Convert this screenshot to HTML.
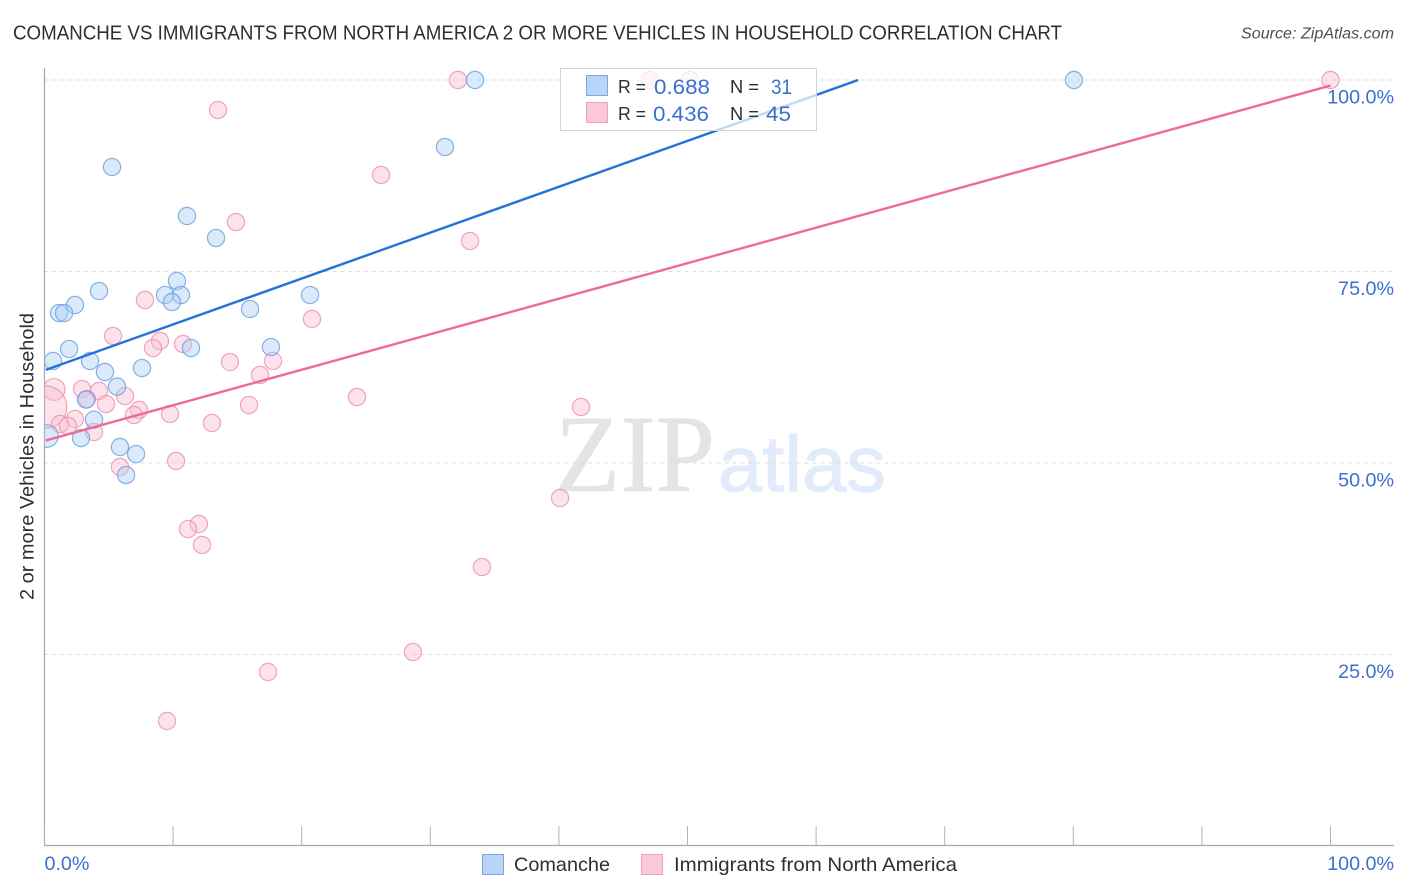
<!DOCTYPE html>
<html lang="en">
<head>
<meta charset="utf-8">
<title>Comanche vs Immigrants from North America correlation chart</title>
<style>
html,body{margin:0;padding:0;background:#fff;width:1406px;height:892px;overflow:hidden}
svg{display:block;font-family:"Liberation Sans",sans-serif}
</style>
</head>
<body>
<svg id="chart" width="1406" height="892" viewBox="0 0 1406 892" xmlns="http://www.w3.org/2000/svg">
  <rect width="1406" height="892" fill="#fff"/>
  <defs><clipPath id="plot-clip"><rect x="44.5" y="60" width="1350" height="786"/></clipPath></defs>
  <text x="13" y="39.5" font-size="20" fill="#2b2f36" textLength="1049" lengthAdjust="spacingAndGlyphs">COMANCHE VS IMMIGRANTS FROM NORTH AMERICA 2 OR MORE VEHICLES IN HOUSEHOLD CORRELATION CHART</text>
  <text x="1394" y="38.5" font-size="15.5" font-style="italic" fill="#4a4f57" text-anchor="end" textLength="153" lengthAdjust="spacingAndGlyphs">Source: ZipAtlas.com</text>
  <text transform="translate(33.5,456.5) rotate(-90)" font-size="19.5" fill="#2b2f36" text-anchor="middle" textLength="287" lengthAdjust="spacingAndGlyphs">2 or more Vehicles in Household</text>
  <g>
    <text x="555" y="491" font-family="'Liberation Serif',serif" font-size="110" fill="#e4e4e4" stroke="#e4e4e4" stroke-width="0.6" textLength="160" lengthAdjust="spacingAndGlyphs">ZIP</text>
    <text x="718" y="491" font-size="79" fill="#e2ebf9" stroke="#e2ebf9" stroke-width="1" textLength="168" lengthAdjust="spacingAndGlyphs">atlas</text>
  </g>
  <g id="grid"></g>
  <g id="axes"></g>
  <g id="points" clip-path="url(#plot-clip)"></g>
  <g id="trends" clip-path="url(#plot-clip)"></g>
  <g id="labels"></g>

  <g>
    <rect x="560.5" y="68.5" width="256" height="62" fill="#fff" fill-opacity="0.72" stroke="#d4d4d4"/>
    <rect x="586.5" y="75.5" width="21" height="20" fill="#b8d4f6" stroke="#7ba6e2"/>
    <rect x="586.5" y="102.5" width="21" height="20" fill="#fbc9d9" stroke="#f1a0bb"/>
    <text x="618" y="93" font-size="18.5" fill="#2b2f36" textLength="28" lengthAdjust="spacingAndGlyphs">R =</text>
    <text x="654" y="94" font-size="21.5" fill="#3a70d0" textLength="56" lengthAdjust="spacingAndGlyphs">0.688</text>
    <text x="730" y="93" font-size="18.5" fill="#2b2f36" textLength="29" lengthAdjust="spacingAndGlyphs">N =</text>
    <text x="771" y="94" font-size="21.5" fill="#3a70d0" textLength="21" lengthAdjust="spacingAndGlyphs">31</text>
    <text x="618" y="120" font-size="18.5" fill="#2b2f36" textLength="28" lengthAdjust="spacingAndGlyphs">R =</text>
    <text x="653" y="121" font-size="21.5" fill="#3a70d0" textLength="56" lengthAdjust="spacingAndGlyphs">0.436</text>
    <text x="730" y="120" font-size="18.5" fill="#2b2f36" textLength="29" lengthAdjust="spacingAndGlyphs">N =</text>
    <text x="766" y="121" font-size="21.5" fill="#3a70d0" textLength="25" lengthAdjust="spacingAndGlyphs">45</text>
  </g>

  <g>
    <g>
      <rect x="482.5" y="854.5" width="21" height="20" fill="#b8d4f6" stroke="#7ba6e2"/>
      <text x="514" y="871" font-size="19.5" fill="#2b2f36" textLength="96" lengthAdjust="spacingAndGlyphs">Comanche</text>
    </g>
    <g>
      <rect x="641.5" y="854.5" width="21" height="20" fill="#fbc9d9" stroke="#f1a0bb"/>
      <text x="674" y="871" font-size="19.5" fill="#2b2f36" textLength="283" lengthAdjust="spacingAndGlyphs">Immigrants from North America</text>
    </g>
  </g>
</svg>
<script>
const comancheX = [5.25,11.08,13.34,10.30,9.37,10.61,9.91,4.24,2.37,1.13,1.52,15.98,20.65,1.91,11.39,17.61,3.54,0.66,4.70,7.58,5.64,3.23,3.85,2.84,0.20,5.87,7.12,6.34,31.14,33.48,80.05];
const comancheY = [88.64,82.25,79.37,73.76,71.93,71.93,71.02,72.45,70.63,69.58,69.58,70.10,71.93,64.88,65.01,65.14,63.32,63.32,61.88,62.40,59.97,58.27,55.66,53.26,53.52,52.09,51.17,48.43,91.25,100,100];
const comancheWeight = [1,1,1,1,1,1,1,1,1,1,1,1,1,1,1,1,1,1,1,1,1,1,1,1,1.7,1,1,1,1,1,1];
const immigrantsX = [13.49,14.89,26.17,33.09,32.15,47.08,50.19,100,7.81,20.80,5.33,8.98,8.44,10.77,14.42,17.77,16.76,0.75,0.10,2.92,4.24,6.26,3.30,4.78,7.35,6.96,9.76,15.90,24.30,41.72,2.37,1.21,1.83,3.85,13.02,5.87,10.23,40.09,12.01,11.16,12.25,34.02,28.65,17.38,9.53];
const immigrantsY = [96.08,81.46,87.60,78.98,100,100,100,100,71.28,68.80,66.58,65.93,65.01,65.54,63.18,63.32,61.49,59.60,57.30,59.66,59.40,58.75,58.36,57.70,56.92,56.27,56.40,57.57,58.62,57.31,55.74,55.09,54.83,54.05,55.22,49.48,50.26,45.43,42.04,41.38,39.30,36.42,25.33,22.72,16.32];
const immigrantsWeight = [1,1,1,1,1,1,1,1,1,1,1,1,1,1,1,1,1,1.6,6,1,1,1,1,1,1,1,1,1,1,1,1,1,1,1,1,1,1,1,1,1,1,1,1,1,1];
const comancheTrend = [62.1, 0.599];
const immigrantsTrend = [52.9, 0.4637];
const yTickValues = [25,50,75,100];
const yTickLabels = ["25.0%","50.0%","75.0%","100.0%"];
const xTickValues = [0,10,20,30,40,50,60,70,80,90,100];
const xEndLabels = ["0.0%","100.0%"];

const NS = "http://www.w3.org/2000/svg";
const xScale = v => 44.5 + v * 12.86;
const yScale = v => 846 - v * 7.66;
const radius = w => 8.6 * Math.sqrt(w);
function make(tag, attrs, parent, text) {
  const el = document.createElementNS(NS, tag);
  for (const k in attrs) el.setAttribute(k, attrs[k]);
  if (text !== undefined) el.textContent = text;
  parent.appendChild(el);
  return el;
}

const grid = document.getElementById("grid");
yTickValues.forEach(v => {
  const el = make("line", {x1:44.5, x2:1394, y1:yScale(v), y2:yScale(v), stroke:"#dcdcdc", "stroke-width":1, "stroke-dasharray":"4 4"}, grid);
  
  
});

const axes = document.getElementById("axes");
const yAxisLine = make("line", {x1:44.5, x2:44.5, y1:68, y2:846, stroke:"#a8a8a8", "stroke-width":1.2}, axes);


const xAxisLine = make("line", {x1:44, x2:1394, y1:845.5, y2:845.5, stroke:"#a8a8a8", "stroke-width":1.2}, axes);


xTickValues.forEach(v => {
  const el = make("line", {x1:xScale(v), x2:xScale(v), y1:826, y2:846, stroke:"#b4b4b4", "stroke-width":1}, axes);
  
  
});

const points = document.getElementById("points");
function drawSeries(xs, ys, ws, fill, stroke, name) {
  xs.forEach((x, i) => {
    const el = make("circle", {cx:xScale(x), cy:yScale(ys[i]), r:radius(ws[i]), fill:fill, "fill-opacity":0.42, stroke:stroke, "stroke-opacity":0.8, "stroke-width":1.2}, points);
    
    
  });
}
drawSeries(immigrantsX, immigrantsY, immigrantsWeight, "#f9bcd0", "#ee8fae", "point-immigrants");
drawSeries(comancheX, comancheY, comancheWeight, "#a9ccf3", "#6a9fe0", "point-comanche");

const trends = document.getElementById("trends");
const comancheEnd = (100 - comancheTrend[0]) / comancheTrend[1];
const comancheLine = make("line", {x1:xScale(0.1), y1:yScale(comancheTrend[0] + 0.1 * comancheTrend[1]), x2:xScale(comancheEnd), y2:yScale(100), stroke:"#2472d8", "stroke-width":2.4}, trends);


const immigrantsLine = make("line", {x1:xScale(0.1), y1:yScale(immigrantsTrend[0] + 0.1 * immigrantsTrend[1]), x2:xScale(100), y2:yScale(immigrantsTrend[0] + 100 * immigrantsTrend[1]), stroke:"#ec6b97", "stroke-width":2.4}, trends);



const labels = document.getElementById("labels");
yTickValues.forEach((v, i) => {
  const el = make("text", {x:1394, y:yScale(v) + 23.5, "font-size":19.7, fill:"#3a70d0", "text-anchor":"end"}, labels, yTickLabels[i]);
  
  
});
const xLabelStart = make("text", {x:44.5, y:870, "font-size":19.7, fill:"#3a70d0"}, labels, xEndLabels[0]);


const xLabelEnd = make("text", {x:1394, y:870, "font-size":19.7, fill:"#3a70d0", "text-anchor":"end"}, labels, xEndLabels[1]);


</script>
</body>
</html>
